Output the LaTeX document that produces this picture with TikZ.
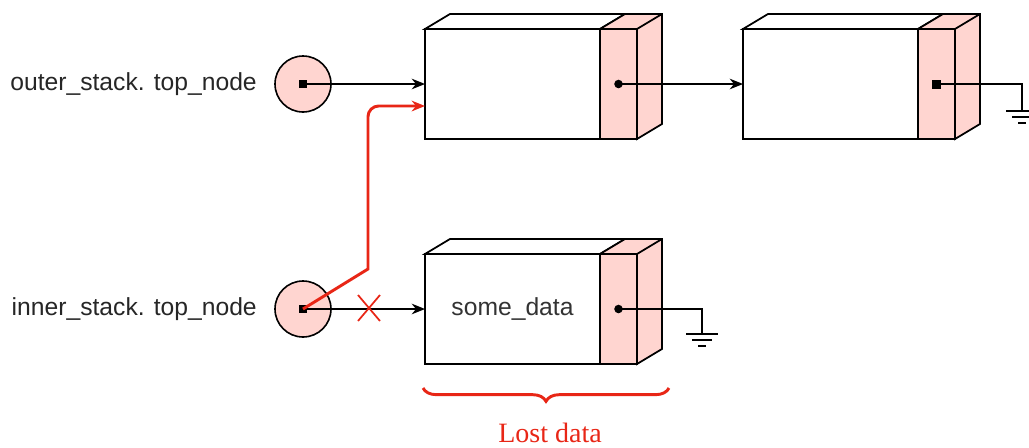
\documentclass[tikz,border=0pt]{standalone}
\usepackage{fontspec}
\setmainfont{Liberation Serif}
\setsansfont{Liberation Sans}
\usetikzlibrary{positioning,arrows.meta,decorations.pathreplacing}
\definecolor{cellpink}{RGB}{255,213,208}
\definecolor{lostred}{RGB}{232,38,22}
\tikzset{
  cell/.style={draw,line width=1.3pt,fill=white,inner sep=0pt,outer sep=0pt,
    minimum width=131.25pt,minimum height=82.5pt,
    font=\sffamily\fontsize{18.5}{20}\selectfont,text=black!80},
  link/.style={draw,line width=1.3pt,fill=cellpink,inner sep=0pt,outer sep=0pt,
    minimum width=27.75pt,minimum height=82.5pt},
  pointer/.style={circle,draw,line width=1.2pt,fill=cellpink,
    minimum size=42pt,inner sep=0pt},
  stacklabel/.style={inner sep=0pt,font=\sffamily\fontsize{18.5}{20}\selectfont,text=black!85},
  wire/.style={line width=1pt},
  ptrarrow/.style={wire,-{Stealth[length=10pt,width=8pt]}},
  lost/.style={draw=lostred,line width=2.2pt}
}
\begin{document}
\begin{tikzpicture}[x=0.75pt,y=-0.75pt]
  \useasboundingbox (0,0) rectangle (1029,447);

  % cells
  \node[cell] (d1) at (512.5,84) {};
  \node[link,right=0pt of d1] (n1) {};
  \node[cell] (d2) at (830.5,84) {};
  \node[link,right=0pt of d2] (n2) {};
  \node[cell] (d3) at (512.5,309) {some\_data};
  \node[link,right=0pt of d3] (n3) {};

  % top and side faces
  \foreach \c in {1,2,3}{
    \draw[line width=1.3pt,fill=white] (d\c.north west) -- ++(25,-15)
      -- ++(175,0) -- (n\c.north west) -- cycle;
    \draw[line width=1.3pt,fill=cellpink] (n\c.north west) -- ++(25,-15)
      -- ++(37,0) -- ++(0,110) -- (n\c.south east) -- (n\c.north east) -- cycle;
    \draw[line width=1.3pt] (n\c.north east) -- ++(25,-15);
  }

  % pointers
  \node[stacklabel,anchor=east] (l1) at (257,84) {outer\_stack. top\_node};
  \node[pointer] (p1) at (303,84) {};
  \node[stacklabel,anchor=east] (l2) at (257,309) {inner\_stack. top\_node};
  \node[pointer] (p2) at (303,309) {};

  \coordinate (g1) at (1022,111);
  \coordinate (g2) at (702,334);
  \coordinate[below=16.5pt of d1.west] (e1);
  \coordinate (x1) at (369,308);
  \coordinate (b1) at (423,388);
  \coordinate (b2) at (669,388);

  \draw[ptrarrow] (p1.center) -- (d1.west);
  \draw[ptrarrow] (n1.center) -- (d2.west);
  \draw[ptrarrow] (p2.center) -- (d3.west);
  \draw[wire] (n2.center) -| (g1);
  \draw[wire] (n3.center) -| (g2);
  \foreach \g in {g1,g2}
    \draw[wire] (\g) +(-16,0) -- +(16,0) +(-10,6) -- +(10,6) +(-4,12) -- +(4,12);

  % dots
  \fill (p1.center) +(-4,-4) rectangle +(4,4);
  \fill (p2.center) +(-4,-4) rectangle +(4,4);
  \fill (n2.center) +(-4.5,-4.5) rectangle +(4.5,4.5);
  \fill (n1.center) circle[radius=3.2pt];
  \fill (n3.center) circle[radius=3.2pt];

  % new link and lost data
  \draw[lost,-{Stealth[length=10pt,width=8pt]}] (p2.center) -- ++(65,-40)
    [rounded corners=8pt] |- (e1);
  \draw[draw=lostred,line width=1.3pt] (x1) +(-11,-13) -- +(11,13)
    +(-11,13) -- +(11,-13);
  \draw[lost,decorate,decoration={brace,mirror,amplitude=10pt}] (b1) -- (b2);
  \node[text=lostred,font=\fontsize{21}{24}\selectfont] (lost) at (550,433) {Lost data};
\end{tikzpicture}
\end{document}
